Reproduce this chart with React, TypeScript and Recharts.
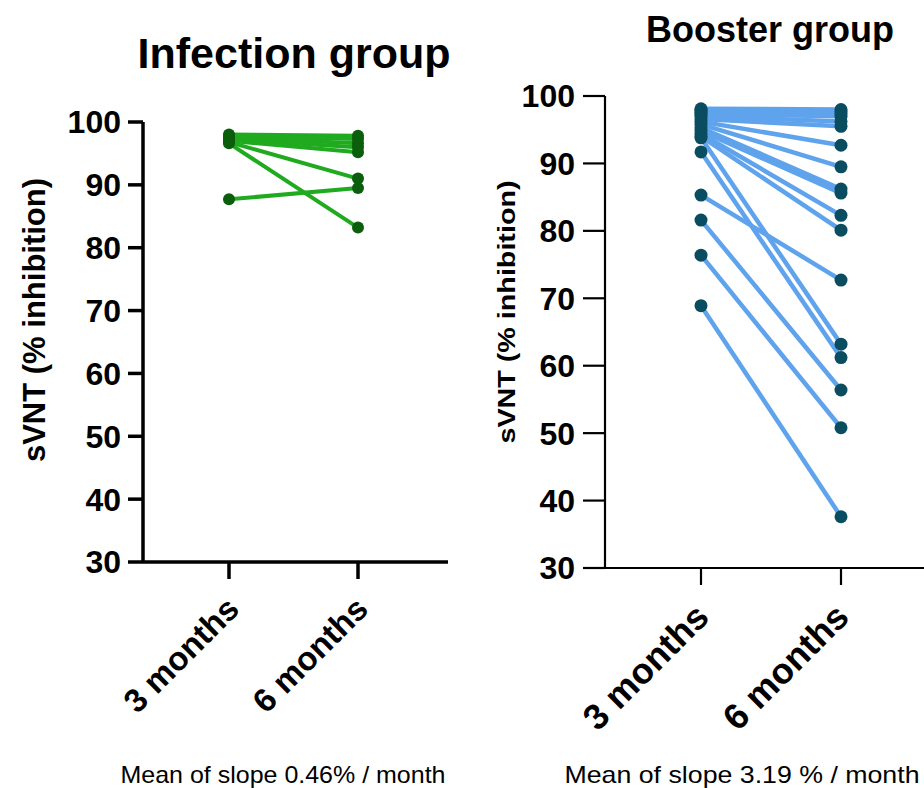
import React from 'react'
import { LineChart, Line, XAxis, YAxis } from 'recharts'

// time points shared by both panels
const timePoints = ['3 months', '6 months']
const yTicks = [30, 40, 50, 60, 70, 80, 90, 100]

// Infection group, one entry per subject
const infection3m = [98.0, 97.8, 97.5, 97.2, 97.0, 96.8, 96.6, 87.7]
const infection6m = [97.8, 97.3, 96.6, 96.0, 95.2, 91.0, 83.2, 89.5]

// Booster group, one entry per subject
const booster3m = [
  98.1, 97.9, 97.6, 97.3, 97.0, 96.6, 96.2, 95.8, 95.3, 94.8, 94.4, 94.0, 93.8,
  91.7, 85.3, 81.6, 76.4, 68.9
]
const booster6m = [
  98.0, 97.7, 97.4, 97.0, 96.2, 95.5, 92.7, 89.5, 86.2, 85.6, 82.3, 80.1, 63.2,
  61.2, 72.7, 56.4, 50.8, 37.6
]

const titles = ['Infection group', 'Booster group']
const yLabel = 'sVNT (% inhibition)'
const slopeNotes = ['Mean of slope 0.46% / month', 'Mean of slope 3.19 % / month']

const FONT = '"Liberation Sans", Arial, sans-serif'

const buildRows = (first: number[], second: number[]) =>
  timePoints.map((t, ti) => {
    const row: Record<string, string | number> = { time: t }
    const vals = ti === 0 ? first : second
    vals.forEach((v, i) => {
      row[`s${i}`] = v
    })
    return row
  })

const infectionRows = buildRows(infection3m, infection6m)
const boosterRows = buildRows(booster3m, booster6m)

const AngledTick = ({ x, y, payload, fontSize, dx, dy }: any) => (
  <g transform={`translate(${x + dx},${y + dy})`}>
    <text
      x={0}
      y={0}
      textAnchor="end"
      transform="rotate(-45)"
      fontSize={fontSize}
      fontWeight="bold"
      fontFamily={FONT}
      fill="#000"
    >
      {payload.value}
    </text>
  </g>
)

interface PanelProps {
  rows: Record<string, string | number>[]
  count: number
  width: number
  height: number
  top: number
  bottom: number
  yAxisWidth: number
  padding: { left: number; right: number }
  lineColor: string
  dotColor: string
  lineWidth: number
  dotR: number
  axisWidth: number
  yTickSize: number
  yTickMargin: number
  xTickSize: number
  labelSize: number
  catSize: number
  catDx: number
  catDy: number
}

const Panel = (p: PanelProps) => (
  <LineChart
    width={p.width}
    height={p.height}
    data={p.rows}
    margin={{ top: p.top, right: 0, bottom: 0, left: 0 }}
  >
    <XAxis
      dataKey="time"
      type="category"
      interval={0}
      padding={p.padding}
      height={p.bottom}
      axisLine={{ stroke: '#000', strokeWidth: p.axisWidth }}
      tickLine={{ stroke: '#000', strokeWidth: p.axisWidth }}
      tickSize={p.xTickSize}
      tick={<AngledTick fontSize={p.catSize} dx={p.catDx} dy={p.catDy} />}
    />
    <YAxis
      domain={[30, 100]}
      ticks={yTicks}
      interval={0}
      width={p.yAxisWidth}
      axisLine={{ stroke: '#000', strokeWidth: p.axisWidth }}
      tickLine={{ stroke: '#000', strokeWidth: p.axisWidth }}
      tickSize={p.yTickSize}
      tickMargin={p.yTickMargin}
      tick={{ fill: '#000', fontSize: p.labelSize, fontWeight: 'bold', fontFamily: FONT }}
    />
    {Array.from({ length: p.count }, (_, i) => (
      <Line
        key={i}
        dataKey={`s${i}`}
        type="linear"
        stroke={p.lineColor}
        strokeWidth={p.lineWidth}
        dot={{ r: p.dotR, fill: p.dotColor, stroke: p.dotColor, strokeWidth: 0 }}
        activeDot={false}
        isAnimationActive={false}
      />
    ))}
  </LineChart>
)

export default function App() {
  return (
    <div
      style={{
        position: 'absolute',
        left: 0,
        top: 0,
        width: 924,
        height: 788,
        background: '#fff',
        fontFamily: FONT,
        overflow: 'hidden'
      }}
    >
      <div style={{ position: 'absolute', left: 0, top: 0 }}>
        <Panel
          rows={infectionRows}
          count={infection3m.length}
          width={448}
          height={788}
          top={122}
          bottom={226}
          yAxisWidth={143}
          padding={{ left: 86, right: 90 }}
          lineColor="#1faa1f"
          dotColor="#0b5e0b"
          lineWidth={4}
          dotR={6}
          axisWidth={3.5}
          yTickSize={15}
          yTickMargin={7}
          xTickSize={17}
          labelSize={32}
          catSize={33}
          catDx={12}
          catDy={30}
        />
      </div>
      <div style={{ position: 'absolute', left: 460, top: 0 }}>
        <Panel
          rows={boosterRows}
          count={booster3m.length}
          width={464}
          height={788}
          top={96}
          bottom={220}
          yAxisWidth={145}
          padding={{ left: 96, right: 83 }}
          lineColor="#5ea3ec"
          dotColor="#0b4d60"
          lineWidth={4.5}
          dotR={6.5}
          axisWidth={2.2}
          yTickSize={22}
          yTickMargin={8}
          xTickSize={17}
          labelSize={32}
          catSize={36}
          catDx={10}
          catDy={32}
        />
      </div>
      <svg
        width={924}
        height={788}
        style={{ position: 'absolute', left: 0, top: 0, pointerEvents: 'none' }}
      >
        <text x={294} y={68} textAnchor="middle" fontSize={43} fontWeight="bold" fontFamily={FONT}>
          {titles[0]}
        </text>
        <text x={770} y={42} textAnchor="middle" fontSize={36} fontWeight="bold" fontFamily={FONT}>
          {titles[1]}
        </text>
        <text
          transform="translate(45,320) rotate(-90)"
          textAnchor="middle"
          fontSize={31}
          fontWeight="bold"
          fontFamily={FONT}
        >
          {yLabel}
        </text>
        <text
          transform="translate(515,312) rotate(-90)"
          textAnchor="middle"
          fontSize={23}
          fontWeight="bold"
          fontFamily={FONT}
          textLength={263}
          lengthAdjust="spacingAndGlyphs"
        >
          {yLabel}
        </text>
        <text x={283} y={783} textAnchor="middle" fontSize={24} fontFamily={FONT} textLength={325} lengthAdjust="spacingAndGlyphs">
          {slopeNotes[0]}
        </text>
        <text x={742} y={783} textAnchor="middle" fontSize={24} fontFamily={FONT} textLength={355} lengthAdjust="spacingAndGlyphs">
          {slopeNotes[1]}
        </text>
      </svg>
    </div>
  )
}
